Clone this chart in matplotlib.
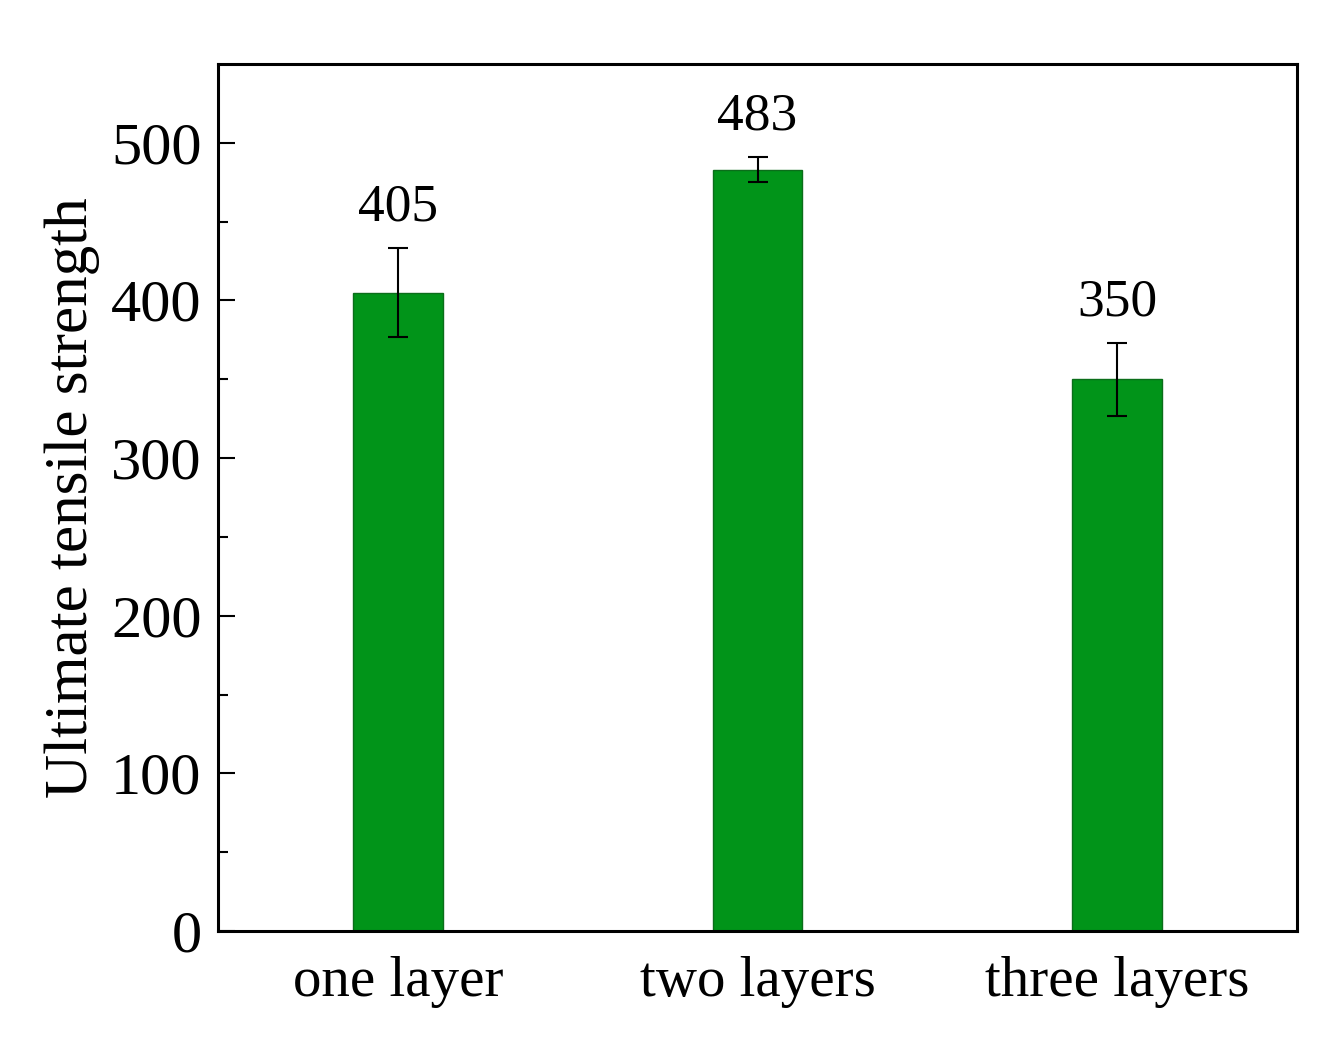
import matplotlib
matplotlib.use("Agg")
import matplotlib.pyplot as plt
import numpy as np

categories = ["one layer", "two layers", "three layers"]
values = [405, 483, 350]
errors = [28, 8, 23]
labels = ["405", "483", "350"]

plt.rcParams['font.family'] = ['Liberation Serif', 'DejaVu Serif']

fig = plt.figure(figsize=(13.32, 10.52), dpi=100)
ax = fig.add_axes([0.1637, 0.115, 0.81, 0.8242])

x = np.arange(len(categories))
ax.bar(x, values, width=0.25, color='#019419', edgecolor='#0b6e1a', linewidth=1.0, zorder=2)
ax.errorbar(x, values, yerr=errors, fmt='none', ecolor='black', elinewidth=1.5,
            capsize=7.2, capthick=1.5, zorder=3)
for xi, v, e, lab in zip(x, values, errors, labels):
    ax.annotate(lab, (xi, v + e), xytext=(0, 12), textcoords='offset points',
                ha='center', va='bottom', fontsize=38.5)

ax.set_xlim(-0.5, 2.5)
ax.set_ylim(0, 550)
ax.set_yticks([0, 100, 200, 300, 400, 500])
ax.set_yticks(np.arange(50, 550, 100), minor=True)
ax.set_xticks(x)
ax.set_xticklabels(categories)
ax.tick_params(axis='x', length=0, labelsize=41, pad=18)
ax.tick_params(axis='y', which='major', direction='in', length=12, width=1.5, labelsize=43.5, pad=12)
ax.tick_params(axis='y', which='minor', direction='in', length=7, width=1.5)
ax.set_ylabel("Ultimate tensile strength", fontsize=44, labelpad=8)
for s in ax.spines.values():
    s.set_linewidth(2.2)

fig.savefig("out.png", dpi=100)
